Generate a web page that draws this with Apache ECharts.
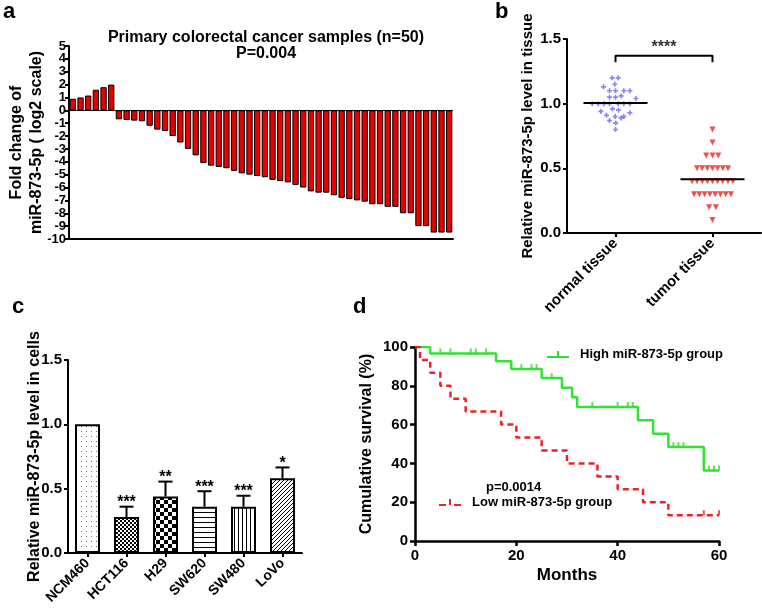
<!DOCTYPE html>
<html>
<head>
<meta charset="utf-8">
<script src="https://cdn.jsdelivr.net/npm/echarts@6/dist/echarts.min.js"></script>
<style>
html, body {margin: 0; padding: 0; background: #fff;}
#main {width: 762px; height: 611px;}
</style>
</head>
<body>
<div id="main"></div>
<script>
var FONT = 'Liberation Sans, Arial, sans-serif';

// a: fold change per sample (log2), sorted
var foldChange = [0.9, 1.0, 1.15, 1.6, 1.8, 2.0,
    -0.7, -0.75, -0.8, -0.85, -1.2, -1.5, -1.6, -2.0, -2.5, -3.0, -3.5, -4.1, -4.3, -4.4,
    -4.5, -4.7, -4.9, -5.0, -5.1, -5.2, -5.4, -5.5, -5.6, -5.8, -6.0, -6.3, -6.4, -6.4,
    -6.6, -6.8, -6.9, -7.0, -7.1, -7.3, -7.3, -7.5, -7.5, -8.0, -8.0, -9.0, -9.0, -9.5, -9.5, -9.5];
var sampleIds = foldChange.map(function (v, i) { return String(i + 1); });

// b: tissue scatter, [jitter offset in category units, value]
var tissueNames = ['normal tissue', 'tumor tissue'];
var normalTissue = [
    [-0.034, 1.20], [0.028, 1.20], [-0.124, 1.13], [-0.007, 1.15],
    [-0.062, 1.10], [0, 1.10], [0.086, 1.10], [0.148, 1.10],
    [-0.062, 1.05], [0, 1.05], [0.058, 1.06], [0.21, 1.04],
    [-0.24, 1.0], [-0.178, 1.0], [-0.12, 1.0], [-0.062, 1.0], [0.028, 1.0], [0.086, 1.0], [0.148, 1.0],
    [-0.151, 0.94], [-0.031, 0.96], [0.031, 0.95], [0.148, 0.93],
    [-0.093, 0.91], [-0.003, 0.90], [0.058, 0.89], [0.086, 0.90],
    [-0.062, 0.87], [0.003, 0.85], [0, 0.80]
];
var tumorTissue = [
    [0, 0.80], [0, 0.70],
    [-0.065, 0.60], [0, 0.60], [0.06, 0.60],
    [-0.16, 0.50], [-0.107, 0.50], [-0.053, 0.50], [0, 0.50], [0.053, 0.50], [0.107, 0.50], [0.16, 0.50],
    [-0.21, 0.40], [-0.16, 0.40], [-0.105, 0.40], [-0.052, 0.40], [0, 0.40], [0.052, 0.40], [0.105, 0.40], [0.16, 0.40], [0.21, 0.40],
    [-0.19, 0.30], [-0.136, 0.30], [-0.082, 0.30], [-0.027, 0.30], [0.027, 0.30], [0.082, 0.30], [0.136, 0.30], [0.19, 0.30],
    [-0.035, 0.20], [0.035, 0.20],
    [0, 0.10]
];
var tissueMedians = [1.005, 0.415];
var bracketLow = 1.32, bracketHigh = 1.37;

// c: cell lines
var cellLines = ['NCM460', 'HCT116', 'H29', 'SW620', 'SW480', 'LoVo'];
var cellMeans = [1.0, 0.28, 0.44, 0.36, 0.36, 0.58];
var cellSD = [0, 0.08, 0.115, 0.12, 0.085, 0.085];
var cellStars = ['', '***', '**', '***', '***', '*'];

// d: Kaplan-Meier
var highMonths = [0, 3, 16, 19, 25, 29, 31, 32, 44, 47, 50, 57, 60];
var highSurvival = [100, 96.7, 92.6, 88.6, 84.0, 79.0, 74.1, 69.1, 62.2, 55.3, 48.4, 36.3, 36.3];
var highCensored = [5, 7, 11, 12, 14, 21, 23, 24, 27, 35, 40, 42, 43, 51, 52, 53, 58, 59, 60];
var lowMonths = [0, 1, 3, 5, 7, 10, 17, 20, 25, 30, 36, 40, 45, 50, 60];
var lowSurvival = [100, 93.3, 86.7, 80, 73.3, 66.7, 60, 53.3, 46.7, 40, 33.3, 26.7, 20, 13.3, 13.3];
var lowCensored = [57, 60];

function merge(a, b) {
    for (var k in b) {
        if (b[k] && typeof b[k] === 'object' && !Array.isArray(b[k]) && a[k] && typeof a[k] === 'object') {
            merge(a[k], b[k]);
        } else {
            a[k] = b[k];
        }
    }
    return a;
}
function axis(extra) {
    return merge({
        axisLine: {show: true, onZero: false, lineStyle: {color: '#000', width: 2}},
        axisTick: {show: true, length: 4, lineStyle: {color: '#000', width: 2}},
        axisLabel: {color: '#000', fontWeight: 'bold', fontFamily: FONT, fontSize: 14},
        splitLine: {show: false},
        nameMoveOverlap: false,
        nameTextStyle: {color: '#000', fontWeight: 'bold', fontFamily: FONT, fontSize: 16}
    }, extra);
}
function pairs(xs, ys) {
    return xs.map(function (x, i) { return [x, ys[i]]; });
}
// survival at time t from a step curve
function survAt(xs, ys, t) {
    var v = ys[0];
    for (var i = 0; i < xs.length; i++) { if (xs[i] <= t) v = ys[i]; }
    return v;
}
function pattern(w, h, draw) {
    var c = document.createElement('canvas');
    c.width = w; c.height = h;
    var ctx = c.getContext('2d');
    ctx.fillStyle = '#fff';
    ctx.fillRect(0, 0, w, h);
    ctx.fillStyle = '#000';
    draw(ctx);
    return {image: c, repeat: 'repeat'};
}
var fills = [
    pattern(5, 5, function (ctx) { ctx.fillStyle = '#777'; ctx.fillRect(1, 1, 1, 1); }),
    pattern(4, 4, function (ctx) { ctx.fillRect(0, 0, 2, 2); ctx.fillRect(2, 2, 2, 2); }),
    pattern(8, 8, function (ctx) { ctx.fillRect(0, 0, 4, 4); ctx.fillRect(4, 4, 4, 4); }),
    pattern(5, 5, function (ctx) { ctx.fillRect(0, 2, 5, 1); }),
    pattern(4, 4, function (ctx) { ctx.fillRect(2, 0, 1, 4); }),
    pattern(4, 4, function (ctx) { for (var i = 0; i < 4; i++) ctx.fillRect(i, 3 - i, 1, 1); })
];

var myChart = echarts.init(document.getElementById('main'), null, {renderer: 'canvas'});

var letterStyle = {fontSize: 22, fontWeight: 'bold', fontFamily: FONT, color: '#000', lineHeight: 22};

option = {
    animation: false,
    backgroundColor: '#fff',
    textStyle: {fontFamily: FONT},
    title: [
        {text: 'Primary colorectal cancer samples (n=50)\nP=0.004', left: 266, top: 30, textAlign: 'center', padding: 0,
            textStyle: {fontSize: 16, fontWeight: 'bold', fontFamily: FONT, color: '#000', lineHeight: 16}},
        {text: 'a', left: 3, top: 1, padding: 0, textStyle: letterStyle},
        {text: 'b', left: 495, top: 1, padding: 0, textStyle: letterStyle},
        {text: 'c', left: 12, top: 296, padding: 0, textStyle: letterStyle},
        {text: 'd', left: 353, top: 296, padding: 0, textStyle: letterStyle}
    ],
    grid: [
        {left: 69, top: 46, width: 384, height: 193, outerBoundsMode: 'none'},
        {left: 567, top: 39, width: 194, height: 194, outerBoundsMode: 'none'},
        {left: 68, top: 360, width: 234, height: 193, outerBoundsMode: 'none'},
        {left: 415, top: 347, width: 304, height: 194, outerBoundsMode: 'none'}
    ],
    legend: [
        {data: [{name: 'High miR-873-5p group', icon: 'path://M0,5h22v2h-22z M10,0h2v6h-2z'}],
            left: 547, top: 348, padding: 0, itemWidth: 22, itemHeight: 7,
            textStyle: {fontSize: 13, fontWeight: 'bold', fontFamily: FONT, color: '#000', padding: [0, 0, 0, 6]}},
        {data: [{name: 'Low miR-873-5p group', icon: 'path://M0,5h7v2h-7z M10,0h2v6h-2z M15,5h7v2h-7z'}],
            left: 439, top: 496, padding: 0, itemWidth: 22, itemHeight: 7,
            textStyle: {fontSize: 13, fontWeight: 'bold', fontFamily: FONT, color: '#000', padding: [0, 0, 0, 6]}}
    ],
    graphic: [
        {type: 'text', left: 486, top: 481, style: {text: 'p=0.0014', font: 'bold 13px ' + FONT, fill: '#000'}}
    ],
    xAxis: [
        axis({gridIndex: 0, type: 'category', data: sampleIds, axisTick: {show: false}, axisLabel: {show: false}}),
        axis({gridIndex: 1, type: 'category', data: tissueNames, axisTick: {alignWithLabel: true},
            axisLabel: {rotate: 45, fontSize: 15, margin: 8}}),
        {gridIndex: 1, type: 'value', min: -0.5, max: 1.5, show: false},
        axis({gridIndex: 2, type: 'category', data: cellLines, axisTick: {alignWithLabel: true},
            axisLabel: {rotate: 45, fontSize: 14, margin: 8, interval: 0}}),
        axis({gridIndex: 3, type: 'value', min: 0, max: 60, interval: 20, name: 'Months', nameLocation: 'middle', nameGap: 26,
            axisLine: {lineStyle: {width: 2.5}}, axisTick: {length: 5, lineStyle: {width: 2.5}},
            axisLabel: {fontSize: 15, margin: 7}, nameTextStyle: {fontSize: 17}})
    ],
    yAxis: [
        axis({gridIndex: 0, type: 'value', min: -10, max: 5, interval: 1,
            name: 'Fold change of\nmiR-873-5p ( log2 scale)', nameLocation: 'middle', nameGap: 22,
            axisLabel: {fontSize: 13, margin: 3}, nameTextStyle: {lineHeight: 20}}),
        axis({gridIndex: 1, type: 'value', min: 0, max: 1.5, interval: 0.5,
            name: 'Relative miR-873-5p level in tissue', nameLocation: 'middle', nameGap: 32,
            axisLabel: {fontSize: 15, margin: 6, formatter: function (v) { return v.toFixed(1); }},
            nameTextStyle: {fontSize: 15}}),
        axis({gridIndex: 2, type: 'value', min: 0, max: 1.5, interval: 0.5,
            name: 'Relative miR-873-5p level in cells', nameLocation: 'middle', nameGap: 25,
            axisLabel: {fontSize: 15, margin: 6, formatter: function (v) { return v.toFixed(1); }}}),
        axis({gridIndex: 3, type: 'value', min: 0, max: 100, interval: 20,
            name: 'Cumulative survival (%)', nameLocation: 'middle', nameGap: 40,
            axisLine: {lineStyle: {width: 2.5}}, axisTick: {length: 5, lineStyle: {width: 2.5}},
            axisLabel: {fontSize: 15, margin: 7}})
    ],
    series: [
        // a
        {
            type: 'bar', xAxisIndex: 0, yAxisIndex: 0, data: foldChange, barCategoryGap: '18%',
            itemStyle: {color: '#e60000', borderColor: '#000', borderWidth: 1},
            markLine: {symbol: 'none', silent: true, label: {show: false},
                lineStyle: {color: '#000', width: 1.2, type: 'solid'}, data: [{yAxis: 0}]}
        },
        // b
        {
            type: 'scatter', xAxisIndex: 2, yAxisIndex: 1, data: normalTissue,
            symbol: 'path://M2,0h2v2h2v2h-2v2h-2v-2h-2v-2h2z', symbolSize: 5,
            itemStyle: {color: '#6a6aee'}
        },
        {
            type: 'scatter', xAxisIndex: 2, yAxisIndex: 1,
            data: tumorTissue.map(function (p) { return [1 + p[0], p[1]]; }),
            symbol: 'triangle', symbolRotate: 180, symbolSize: 6,
            itemStyle: {color: '#ee2222'}
        },
        {
            type: 'line', xAxisIndex: 2, yAxisIndex: 1, symbol: 'none',
            data: [[-0.33, tissueMedians[0]], [0.33, tissueMedians[0]]],
            lineStyle: {color: '#000', width: 2}
        },
        {
            type: 'line', xAxisIndex: 2, yAxisIndex: 1, symbol: 'none',
            data: [[0.67, tissueMedians[1]], [1.33, tissueMedians[1]]],
            lineStyle: {color: '#000', width: 2}
        },
        {
            type: 'line', xAxisIndex: 2, yAxisIndex: 1, symbol: 'none',
            data: [[0, bracketLow], [0, bracketHigh], [1, bracketHigh], [1, bracketLow]],
            lineStyle: {color: '#000', width: 2}
        },
        {
            type: 'scatter', xAxisIndex: 2, yAxisIndex: 1, symbolSize: 0,
            data: [[0.5, bracketHigh]],
            label: {show: true, position: 'top', distance: 0, formatter: '****',
                fontSize: 16, fontWeight: 'bold', fontFamily: FONT, color: '#000'}
        },
        // c
        {
            type: 'bar', xAxisIndex: 3, yAxisIndex: 2, barWidth: 25,
            data: cellMeans.map(function (v, i) {
                return {value: v, itemStyle: {color: fills[i]}};
            }),
            itemStyle: {borderColor: '#000', borderWidth: 2}
        },
        {
            type: 'custom', xAxisIndex: 3, yAxisIndex: 2,
            data: cellMeans.map(function (v, i) { return [i, v, v + cellSD[i]]; }),
            renderItem: function (params, api) {
                var i = api.value(0);
                var base = api.coord([i, api.value(1)]);
                var top = api.coord([i, api.value(2)]);
                var children = [];
                if (cellSD[i] > 0) {
                    children.push({type: 'line', shape: {x1: base[0], y1: base[1], x2: top[0], y2: top[1]},
                        style: {stroke: '#000', lineWidth: 2}});
                    children.push({type: 'line', shape: {x1: top[0] - 7, y1: top[1], x2: top[0] + 7, y2: top[1]},
                        style: {stroke: '#000', lineWidth: 2}});
                }
                children.push({type: 'text', style: {text: cellStars[i], x: top[0], y: top[1] + 4,
                    align: 'center', verticalAlign: 'bottom', font: 'bold 16px ' + FONT, fill: '#000'}});
                return {type: 'group', children: children};
            },
            z: 5
        },
        // d
        {
            name: 'High miR-873-5p group', type: 'line', xAxisIndex: 4, yAxisIndex: 3, step: 'end',
            symbol: 'none', data: pairs(highMonths, highSurvival),
            itemStyle: {color: '#35e035'}, lineStyle: {color: '#35e035', width: 2.5}
        },
        {
            name: 'Low miR-873-5p group', type: 'line', xAxisIndex: 4, yAxisIndex: 3, step: 'end',
            symbol: 'none', data: pairs(lowMonths, lowSurvival),
            itemStyle: {color: '#e82428'}, lineStyle: {color: '#e82428', width: 2.5, type: [6, 4]}
        },
        {
            type: 'scatter', xAxisIndex: 4, yAxisIndex: 3, symbol: 'rect', symbolSize: [2, 5], symbolOffset: [0, -2.5],
            data: highCensored.map(function (t) { return [t, survAt(highMonths, highSurvival, t)]; }),
            itemStyle: {color: '#35e035'}
        },
        {
            type: 'scatter', xAxisIndex: 4, yAxisIndex: 3, symbol: 'rect', symbolSize: [2, 5], symbolOffset: [0, -2.5],
            data: lowCensored.map(function (t) { return [t, survAt(lowMonths, lowSurvival, t)]; }),
            itemStyle: {color: '#e82428'}
        }
    ]
};

myChart.setOption(option);
</script>
</body>
</html>
